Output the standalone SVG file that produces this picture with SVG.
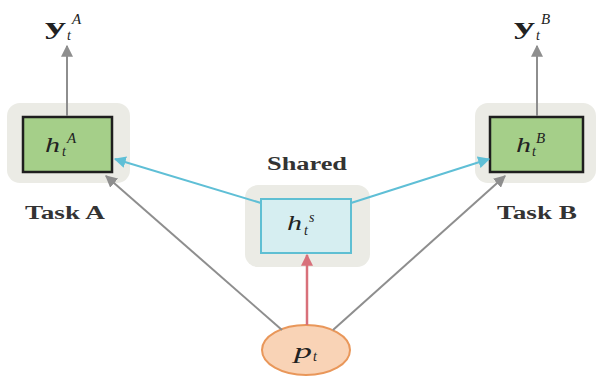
<svg xmlns="http://www.w3.org/2000/svg" width="597" height="377" viewBox="0 0 597 377">
<defs>
<style>
.bg{fill:#ebebe5;}
.task{fill:#a5cf89;stroke:#1e1e1e;stroke-width:2.5;}
.sh{fill:#d6eef1;stroke:#5fbfd3;stroke-width:2;}
.inp{fill:#f9d3b6;stroke:#e9975a;stroke-width:2;}
.math{font-family:"Liberation Serif",serif;font-style:italic;fill:#222;}
.vec{font-family:"Liberation Serif",serif;font-style:normal;font-weight:bold;fill:#222;}
.lbl{font-family:"Liberation Serif",serif;font-weight:bold;font-size:18px;fill:#333;text-anchor:middle;}
.g{stroke:#8e8e8e;stroke-width:2;fill:none;}
.b{stroke:#5fbfd6;stroke-width:2;fill:none;}
.r{stroke:#d8707a;stroke-width:2.5;fill:none;}
</style>
<marker id="ag" viewBox="0 0 10 10" refX="9" refY="5" markerWidth="12" markerHeight="12" markerUnits="userSpaceOnUse" orient="auto"><path d="M0,0L10,5L0,10z" fill="#8e8e8e"/></marker>
<marker id="ab" viewBox="0 0 10 10" refX="9" refY="5" markerWidth="12" markerHeight="12" markerUnits="userSpaceOnUse" orient="auto"><path d="M0,0L10,5L0,10z" fill="#5fbfd6"/></marker>
<marker id="ar" viewBox="0 0 10 10" refX="9" refY="5" markerWidth="12" markerHeight="12" markerUnits="userSpaceOnUse" orient="auto"><path d="M0,0L10,5L0,10z" fill="#d8707a"/></marker>
</defs>
<rect width="597" height="377" fill="#fff"/>
<g id="task-a">
<rect class="bg" x="7" y="103" width="123" height="80" rx="13"/>
<rect class="task" x="23" y="117" width="89" height="55"/>
<text class="math" x="45" y="152" font-size="22" textLength="15" lengthAdjust="spacingAndGlyphs">h</text><text class="math" x="62" y="156" font-size="14">t</text><text class="math" x="67" y="143" font-size="15">A</text>
<text class="lbl" x="65" y="219" textLength="80" lengthAdjust="spacingAndGlyphs">Task A</text>
</g>
<g id="task-b">
<rect class="bg" x="475" y="103" width="121" height="80" rx="13"/>
<rect class="task" x="490" y="117" width="93" height="55"/>
<text class="math" x="516" y="152" font-size="22" textLength="15" lengthAdjust="spacingAndGlyphs">h</text><text class="math" x="532" y="156" font-size="14">t</text><text class="math" x="536" y="143" font-size="15">B</text>
<text class="lbl" x="537" y="219" textLength="80" lengthAdjust="spacingAndGlyphs">Task B</text>
</g>
<g id="shared">
<text class="lbl" x="307" y="170" textLength="80" lengthAdjust="spacingAndGlyphs">Shared</text>
<rect class="bg" x="245" y="185" width="125" height="82" rx="13"/>
<rect class="sh" x="261" y="199" width="90" height="54"/>
<text class="math" x="287" y="230" font-size="22" textLength="15" lengthAdjust="spacingAndGlyphs">h</text><text class="math" x="304" y="235" font-size="14">t</text><text class="math" x="309" y="222" font-size="14">s</text>
</g>
<g id="input">
<ellipse class="inp" cx="306" cy="350" rx="44" ry="25"/>
<text class="math" x="294" y="358" font-size="22" textLength="18" lengthAdjust="spacingAndGlyphs">p</text><text class="math" x="313" y="361" font-size="14">t</text>
</g>
<g id="out-a"><text class="vec" x="45" y="34" font-size="24" textLength="21" lengthAdjust="spacingAndGlyphs">y</text><text class="math" x="67" y="40" font-size="14">t</text><text class="math" x="72" y="24" font-size="15">A</text></g>
<g id="out-b"><text class="vec" x="514" y="34" font-size="24" textLength="21" lengthAdjust="spacingAndGlyphs">y</text><text class="math" x="536" y="40" font-size="14">t</text><text class="math" x="541" y="24" font-size="15">B</text></g>
<g id="connectors">
<line class="g" x1="67" y1="116" x2="67" y2="46" marker-end="url(#ag)"/>
<line class="g" x1="537" y1="116" x2="537" y2="46" marker-end="url(#ag)"/>
<line class="b" x1="261" y1="203" x2="115" y2="159" marker-end="url(#ab)"/>
<line class="b" x1="351" y1="203" x2="489" y2="159" marker-end="url(#ab)"/>
<line class="g" x1="282" y1="330" x2="106" y2="176" marker-end="url(#ag)"/>
<line class="g" x1="333" y1="330" x2="505" y2="176" marker-end="url(#ag)"/>
<line class="r" x1="307" y1="325" x2="307" y2="255" marker-end="url(#ar)"/>
</g>
</svg>
